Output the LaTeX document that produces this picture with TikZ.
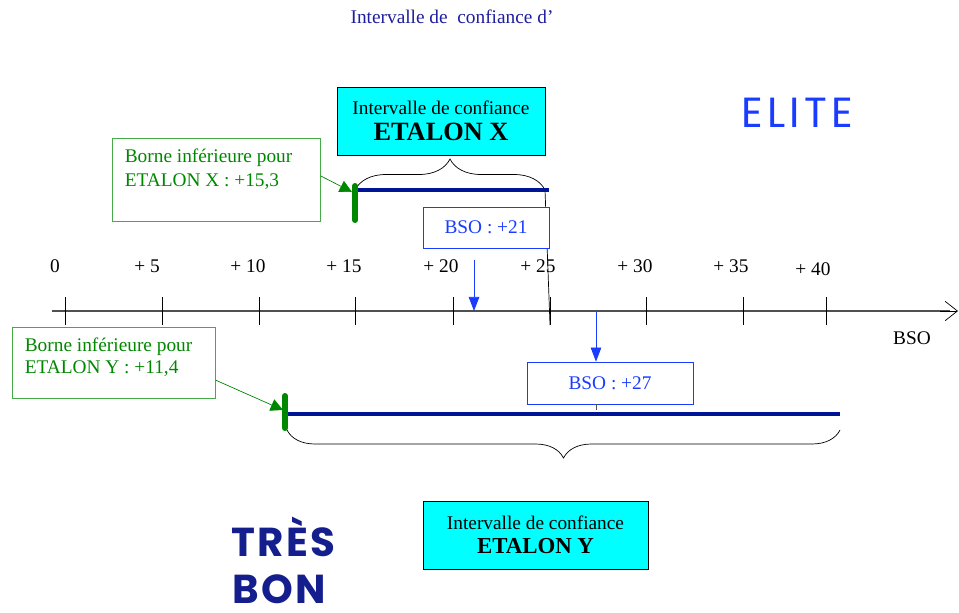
\documentclass[tikz,border=0pt]{standalone}
\usepackage{fontspec}
\setmainfont{Liberation Serif}
\newfontfamily\rondfont{Poppins}
\usetikzlibrary{arrows.meta,decorations.pathreplacing,positioning}

\definecolor{titrebleu}{RGB}{30,30,160}
\definecolor{bleuvif}{RGB}{25,60,255}
\definecolor{marine}{RGB}{0,20,150}
\definecolor{vertfonce}{RGB}{0,135,0}
\definecolor{vertclair}{RGB}{70,170,70}
\definecolor{gristrait}{RGB}{80,80,80}
\definecolor{bonbleu}{RGB}{20,30,140}
\definecolor{cyanvif}{RGB}{0,255,255}

\begin{document}
\begin{tikzpicture}[x=0.02cm, y=-0.02cm, font=\fontsize{11}{13.6}\selectfont,
    cadre/.style={draw, fill=cyanvif, align=center, minimum height=1.36cm},
    borne/.style={draw=vertclair, text=vertfonce, anchor=north west,
        inner xsep=0.25cm, inner ysep=6pt},
    bso/.style={draw=bleuvif, text=bleuvif, fill=white},
    fleche/.style={bleuvif, -{Triangle[length=8pt,width=6pt]}},
    flechevert/.style={vertfonce, -{Triangle[length=7pt,width=7pt]}},
    segment/.style={marine, line width=2.3pt},
    repere/.style={vertfonce, line width=3.4pt, line cap=round},
    niveau/.style={text=bonbleu, anchor=base west, inner sep=0pt, text depth=0pt,
        font=\rondfont\bfseries\fontsize{23}{28}\selectfont\addfontfeatures{LetterSpace=6}},
    accolade/.style={decorate, decoration={brace, amplitude=#1}}]
    \useasboundingbox (0,0) rectangle (959,612);

    % titre
    \node[text=titrebleu] (titre) at (452,17) {Intervalle de \ confiance d’};

    % axe des BSO
    \draw[gristrait, line width=1.1pt] (52,311) -- (950,311);
    \draw[-{Straight Barb[length=7pt,width=11pt]}] (940,311) -- (958,311);
    \foreach \x/\lx/\ly/\l [count=\i] in {65/55/266/0, 162/147/266/+ 5, 259/248/266/+ 10,
        355/344/266/+ 15, 453/441/266/+ 20, 550/538/266/+ 25, 646/635/266/+ 30,
        743/731/266/+ 35, 826/813/269/+ 40}
    {
        \draw (\x,297) -- (\x,325);
        \node (g\i) at (\lx,\ly) {\l};
    }
    \node (bso) at (912,338) {BSO};

    % ETALON X
    \coordinate (xg) at (355,190);
    \coordinate (xd) at (549,190);
    \node[cadre, minimum width=4.16cm] (ix) at (441,121)
        {Intervalle de confiance\\[1pt]{\fontsize{15}{17}\selectfont\bfseries ETALON X}};
    \draw[accolade=0.62cm] (xg) -- ([xshift=-0.08cm]xd);
    \draw ([xshift=-0.08cm]xd) -- (550,325);
    \draw[segment] (xg) -- (xd);
    \node[borne] (bx) at (112,138)
        {\parbox[c][1.24cm][t]{3.66cm}{\raggedright Borne inférieure pour\\ETALON X : +15,3}};
    \draw[repere] ([yshift=0.08cm]xg) -- ([yshift=-0.6cm]xg);
    \draw[flechevert] ([yshift=0.08cm]bx.east) -- ([xshift=-0.06cm,yshift=-0.04cm]xg);

    % ETALON Y
    \coordinate (yg) at (285,414);
    \coordinate (yd) at (840,414);
    \draw[segment] (yg) -- (yd);
    \draw[accolade=0.56cm] ([yshift=-0.32cm]yd) -- ([yshift=-0.32cm,xshift=0.04cm]yg);
    \node[borne] (by) at (12,327)
        {\parbox[c][0.99cm][t]{3.56cm}{\raggedright\baselineskip=12.8pt Borne inférieure pour\\ETALON Y : +11,4}};
    \draw[repere] ([yshift=0.36cm]yg) -- ([yshift=-0.28cm]yg);
    \draw[flechevert] ([yshift=-0.35cm]by.east) -- ([xshift=-0.04cm,yshift=0.08cm]yg);
    \node[cadre, minimum width=4.5cm] (iy) at (535.5,535)
        {Intervalle de confiance\\{\fontsize{13}{15}\selectfont\bfseries ETALON Y}};

    % BSO des étalons
    \node[bso, minimum width=2.52cm, minimum height=0.82cm] (b21) at (486,227.5) {BSO : +21};
    \coordinate (a21) at (474,311);
    \draw[fleche] (b21.south -| a21) ++(0,12) -- (a21);
    \node[bso, minimum width=3.32cm, minimum height=0.84cm] (b27) at (610,383) {BSO : +27};
    \coordinate (a27) at (596,311);
    \draw[fleche] (a27) -- (b27.north -| a27);
    \draw[gristrait] (b27.south -| a27) -- ++(0,6);

    % niveaux
    \node[text=bleuvif, font=\rondfont\fontsize{24}{28}\selectfont\addfontfeatures{LetterSpace=10}]
        (elite) at (797,113) {ELITE};
    \node[niveau] (tres) at (231,556) {TRÈS};
    \node[niveau] (bon) at (232,603) {BON};
\end{tikzpicture}
\end{document}
